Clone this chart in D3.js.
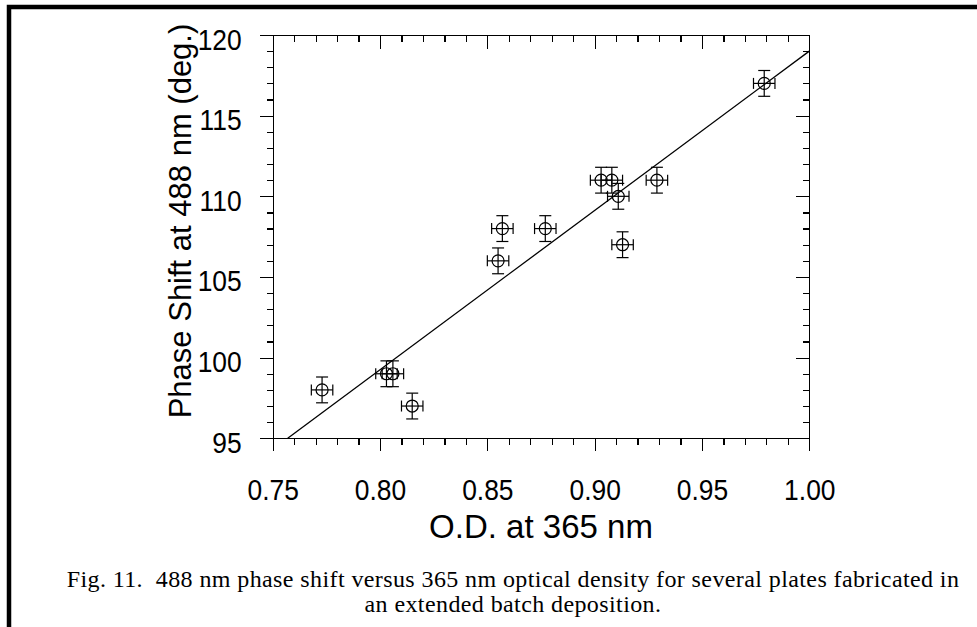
<!DOCTYPE html>
<html>
<head>
<meta charset="utf-8">
<title>Phase Shift vs O.D.</title>
<style>
  body { margin: 0; background: #fff; }
  .axis path, .axis line { stroke: #000; stroke-width: 1.2; shape-rendering: crispEdges; }
  .axis text { font-family: "Liberation Sans", Arial, sans-serif; font-size: 30px; fill: #000; }
  .title { font-family: "Liberation Sans", Arial, sans-serif; font-size: 31px; fill: #000; }
  .caption { font-family: "Liberation Serif", "Times New Roman", serif; font-size: 24px; letter-spacing: 0.4px; fill: #000; white-space: pre; }
</style>
</head>
<body>
<div id="chart"></div>
<script src="https://d3js.org/d3.v7.min.js"></script>
<script>
// data
var odValues    = [0.773, 0.803, 0.806, 0.815, 0.855, 0.857, 0.877, 0.903, 0.908, 0.911, 0.913, 0.929, 0.979];
var phaseValues = [98, 99, 99, 97, 106, 108, 108, 111, 111, 110, 107, 111, 117];
var odError     = [0.005, 0.005, 0.005, 0.005, 0.005, 0.005, 0.005, 0.005, 0.005, 0.005, 0.005, 0.005, 0.005];
var phaseError  = [0.8, 0.8, 0.8, 0.8, 0.8, 0.8, 0.8, 0.8, 0.8, 0.8, 0.8, 0.8, 0.8];
var fitOD       = [0.757, 1.00];
var fitPhase    = [95, 119];
var xTicks      = [0.75, 0.80, 0.85, 0.90, 0.95, 1.00];
var yTicks      = [95, 100, 105, 110, 115, 120];
var xMinorTicks = d3.range(75, 101).map(function(d) { return d / 100; });
var yMinorTicks = d3.range(95, 121);
var captionLines = [
  "Fig. 11.  488 nm phase shift versus 365 nm optical density for several plates fabricated in",
  "an extended batch deposition."
];

var W = 977, H = 627;
var plotL = 272.7, plotR = 809.3, plotT = 35, plotB = 438.3;
var sx = 0.88; // tick labels are a bit condensed

var svg = d3.select("#chart").append("svg")
  .attr("width", W)
  .attr("height", H);

// page frame (top and left edge)
svg.append("path")
  .attr("d", "M9," + H + "V7H" + W)
  .attr("fill", "none")
  .attr("stroke", "#000")
  .attr("stroke-width", 4.5)
  .attr("stroke-linejoin", "miter");

var x = d3.scaleLinear().domain([0.75, 1.00]).range([plotL, plotR]);
var y = d3.scaleLinear().domain([95, 120]).range([plotB, plotT]);

// minor ticks
svg.append("g").attr("class", "axis").attr("transform", "translate(0," + plotB + ")")
  .call(d3.axisBottom(x).tickValues(xMinorTicks).tickSize(7).tickFormat(""));
svg.append("g").attr("class", "axis").attr("transform", "translate(0," + plotT + ")")
  .call(d3.axisTop(x).tickValues(xMinorTicks).tickSize(-7).tickFormat(""));
svg.append("g").attr("class", "axis").attr("transform", "translate(" + plotL + ",0)")
  .call(d3.axisLeft(y).tickValues(yMinorTicks).tickSize(6).tickFormat(""));
svg.append("g").attr("class", "axis").attr("transform", "translate(" + plotR + ",0)")
  .call(d3.axisRight(y).tickValues(yMinorTicks).tickSize(-6).tickFormat(""));

// major ticks
var xAxis = svg.append("g").attr("class", "axis").attr("transform", "translate(0," + plotB + ")")
  .call(d3.axisBottom(x).tickValues(xTicks).tickSize(13).tickFormat(d3.format(".2f")));
xAxis.selectAll("text").attr("y", 62).attr("dy", 0)
  .attr("transform", "scale(" + sx + ",1)");

svg.append("g").attr("class", "axis").attr("transform", "translate(0," + plotT + ")")
  .call(d3.axisTop(x).tickValues(xTicks).tickSize(-14).tickFormat(""));

var yAxis = svg.append("g").attr("class", "axis").attr("transform", "translate(" + plotL + ",0)")
  .call(d3.axisLeft(y).tickValues(yTicks).tickSize(13).tickFormat(d3.format("d")));
yAxis.selectAll("text").attr("x", -31 / sx).attr("dy", 0).attr("y", 14)
  .attr("transform", "scale(" + sx + ",1)");

svg.append("g").attr("class", "axis").attr("transform", "translate(" + plotR + ",0)")
  .call(d3.axisRight(y).tickValues(yTicks).tickSize(-13).tickFormat(""));

// fit line
var fit = fitOD.map(function(d, i) { return [d, fitPhase[i]]; });
svg.append("path")
  .datum(fit)
  .attr("fill", "none")
  .attr("stroke", "#000")
  .attr("stroke-width", 1.3)
  .attr("d", d3.line().x(function(d) { return x(d[0]); }).y(function(d) { return y(d[1]); }));

// points with error bars
var pts = odValues.map(function(d, i) {
  return { od: d, ph: phaseValues[i], ex: odError[i], ey: phaseError[i] };
});
var g = svg.append("g").attr("stroke", "#000").attr("stroke-width", 1.2).attr("fill", "none");
var p = g.selectAll(".pt").data(pts).enter().append("g").attr("class", "pt");

p.append("line")
  .attr("x1", function(d) { return x(d.od); }).attr("x2", function(d) { return x(d.od); })
  .attr("y1", function(d) { return y(d.ph - d.ey); }).attr("y2", function(d) { return y(d.ph + d.ey); });
p.append("line")
  .attr("x1", function(d) { return x(d.od - d.ex); }).attr("x2", function(d) { return x(d.od + d.ex); })
  .attr("y1", function(d) { return y(d.ph); }).attr("y2", function(d) { return y(d.ph); });
// caps
[-1, 1].forEach(function(s) {
  p.append("line")
    .attr("x1", function(d) { return x(d.od) - 6; }).attr("x2", function(d) { return x(d.od) + 6; })
    .attr("y1", function(d) { return y(d.ph + s * d.ey); }).attr("y2", function(d) { return y(d.ph + s * d.ey); });
  p.append("line")
    .attr("x1", function(d) { return x(d.od + s * d.ex); }).attr("x2", function(d) { return x(d.od + s * d.ex); })
    .attr("y1", function(d) { return y(d.ph) - 5.5; }).attr("y2", function(d) { return y(d.ph) + 5.5; });
});
p.append("circle")
  .attr("cx", function(d) { return x(d.od); })
  .attr("cy", function(d) { return y(d.ph); })
  .attr("r", 6);

// axis titles
svg.append("text").attr("class", "title")
  .attr("x", (plotL + plotR) / 2).attr("y", 538)
  .attr("text-anchor", "middle")
  .style("font-size", "33px")
  .text("O.D. at 365 nm");

svg.append("text").attr("class", "title")
  .attr("transform", "translate(191,221) rotate(-90)")
  .attr("text-anchor", "middle")
  .text("Phase Shift at 488 nm (deg.)");

// caption
svg.selectAll(".caption").data(captionLines).enter().append("text")
  .attr("class", "caption")
  .attr("x", 513)
  .attr("y", function(d, i) { return 587 + i * 25; })
  .attr("text-anchor", "middle")
  .text(function(d) { return d; });
</script>
</body>
</html>
